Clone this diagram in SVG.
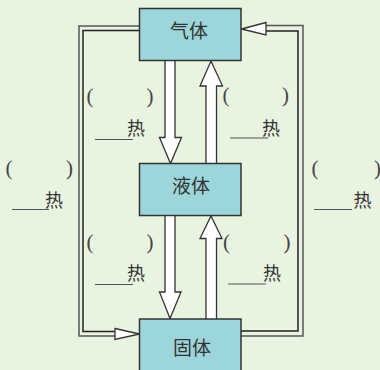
<svg xmlns="http://www.w3.org/2000/svg" width="380" height="370" viewBox="0 0 380 370">
<style>
.box{fill:#9DD6DA;stroke:#333;stroke-width:1.5}
.lbl{font-family:"Noto Sans CJK SC",sans-serif;font-size:19px;fill:#333;text-anchor:middle}
.re{font-family:"Noto Sans CJK SC",sans-serif;font-size:18px;fill:#333;text-anchor:middle}
.par{font-family:"Liberation Serif",serif;font-size:21px;fill:#444}
.ul{stroke:#555;stroke-width:1.2;fill:none}
.big{fill:#fff;stroke:#333;stroke-width:1.3;stroke-linejoin:miter}
.lo{fill:none;stroke:#555;stroke-width:1.5}
.li{fill:none;stroke:#222;stroke-width:1.5}
.tri{fill:#fff;stroke:#333;stroke-width:1.3}
</style>
<rect width="380" height="370" fill="#E8F3E0"/>
<g id="connectors">
<path class="big" d="M165,61 L165,137.5 L159.5,137.5 L170.5,163.5 L181.5,137.5 L175,137.5 L175,61"/>
<path class="big" d="M206,163 L206,86 L200,86 L211,61 L222.5,86 L216.5,86 L216.5,163"/>
<path class="big" d="M165,216 L165,292 L159.5,292 L170,318.5 L181,292 L175,292 L175,216"/>
<path class="big" d="M206,319 L206,238.5 L200,238.5 L211,216 L222,238.5 L216.5,238.5 L216.5,319"/>
<polyline class="lo" points="139,26 79,26 79,336 115,336"/>
<polyline class="li" points="139,30.5 83,30.5 83,331.5 115,331.5"/>
<polygon class="tri" points="115,328.5 139.5,334 115,339.5"/>
<polyline class="li" points="241,331 298,331 298,31 266,31"/>
<polyline class="lo" points="241,336 303,336 303,25.5 266,25.5"/>
<polygon class="tri" points="266,22.5 241.5,29 266,35"/>
</g>
<g id="gas"><rect class="box" x="139.5" y="8.5" width="101.5" height="52"/><text class="lbl" x="189" y="38">气体</text></g>
<g id="liquid"><rect class="box" x="139.5" y="163.5" width="101.5" height="52"/><text class="lbl" x="191" y="193">液体</text></g>
<g id="solid"><rect class="box" x="139.5" y="319" width="101.5" height="55"/><text class="lbl" x="192" y="355">固体</text></g>
<g id="labels">
<text class="par" y="103"><tspan x="86.5">(</tspan><tspan x="146.5">)</tspan></text>
<text class="re" x="136" y="135">热</text>
<line class="ul" x1="95" y1="139.5" x2="133" y2="139.5"/>
<text class="par" y="101.5"><tspan x="222.5">(</tspan><tspan x="282">)</tspan></text>
<text class="re" x="271" y="134.5">热</text>
<line class="ul" x1="230" y1="138" x2="268" y2="138"/>
<text class="par" y="249"><tspan x="86.5">(</tspan><tspan x="146.5">)</tspan></text>
<text class="re" x="136" y="280">热</text>
<line class="ul" x1="95" y1="284.5" x2="133" y2="284.5"/>
<text class="par" y="249"><tspan x="223">(</tspan><tspan x="283.5">)</tspan></text>
<text class="re" x="272" y="280">热</text>
<line class="ul" x1="228" y1="284" x2="266" y2="284"/>
<text class="par" y="175"><tspan x="5.5">(</tspan><tspan x="66">)</tspan></text>
<text class="re" x="54" y="207">热</text>
<line class="ul" x1="12" y1="209.5" x2="49" y2="209.5"/>
<text class="par" y="175"><tspan x="311.5">(</tspan><tspan x="374">)</tspan></text>
<text class="re" x="362.5" y="207">热</text>
<line class="ul" x1="314" y1="209.5" x2="352" y2="209.5"/>
</g>
</svg>
